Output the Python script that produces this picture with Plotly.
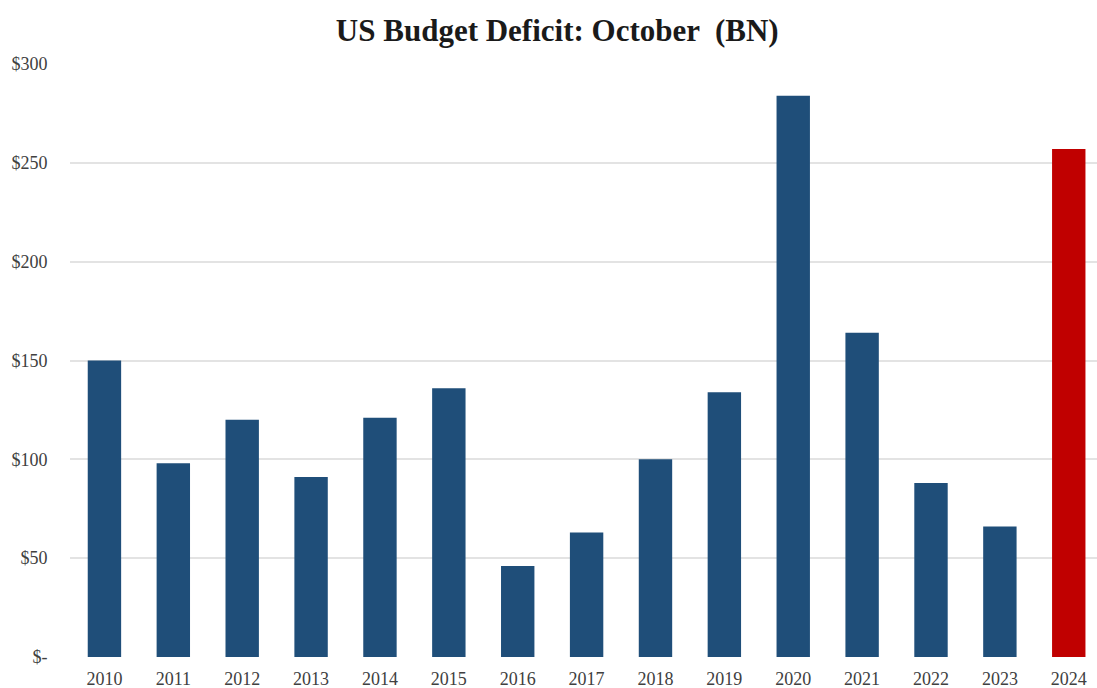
import plotly.graph_objects as go

# October budget deficit by fiscal year, $ billions
years = ["2010", "2011", "2012", "2013", "2014", "2015", "2016", "2017",
         "2018", "2019", "2020", "2021", "2022", "2023", "2024"]
deficit_bn = [150, 98, 120, 91, 121, 136, 46, 63, 100, 134, 284, 164, 88, 66, 257]

y_tick_vals = [0, 50, 100, 150, 200, 250, 300]
y_tick_text = ["$-", "$50", "$100", "$150", "$200", "$250", "$300"]

BLUE = "#1F4E79"
RED = "#C00000"
colors = [RED if y == "2024" else BLUE for y in years]

fig = go.Figure(
    go.Bar(
        x=list(range(len(years))),
        y=deficit_bn,
        marker=dict(color=colors, line=dict(width=0)),
        width=0.485,
        hoverinfo="skip",
    )
)

serif = "Liberation Serif, Times New Roman, serif"

fig.update_layout(
    width=1097,
    height=688,
    margin=dict(l=70, r=0, t=64, b=31),
    paper_bgcolor="white",
    plot_bgcolor="white",
    showlegend=False,
    title=dict(
        text="<b>US Budget Deficit: October  (BN)</b>",
        font=dict(family=serif, size=31, color="#1a1a1a"),
        x=0.508,
        xanchor="center",
        y=1 - 30 / 688,
        yanchor="middle",
    ),
    xaxis=dict(
        range=[-0.5, 14.41],
        tickmode="array",
        tickvals=list(range(len(years))),
        ticktext=years,
        showgrid=False,
        showline=False,
        zeroline=False,
        ticks="outside",
        ticklen=5,
        tickcolor="rgba(0,0,0,0)",
        tickfont=dict(family=serif, size=18, color="#404040"),
        automargin=False,
    ),
    yaxis=dict(
        range=[0, 300],
        tickmode="array",
        tickvals=y_tick_vals,
        ticktext=y_tick_text,
        showgrid=True,
        gridcolor="#E3E3E3",
        gridwidth=1.5,
        zeroline=False,
        showline=False,
        ticks="outside",
        ticklen=18,
        tickcolor="rgba(0,0,0,0)",
        tickfont=dict(family=serif, size=18, color="#404040"),
        automargin=False,
    ),
)

fig.write_html("out.html")
